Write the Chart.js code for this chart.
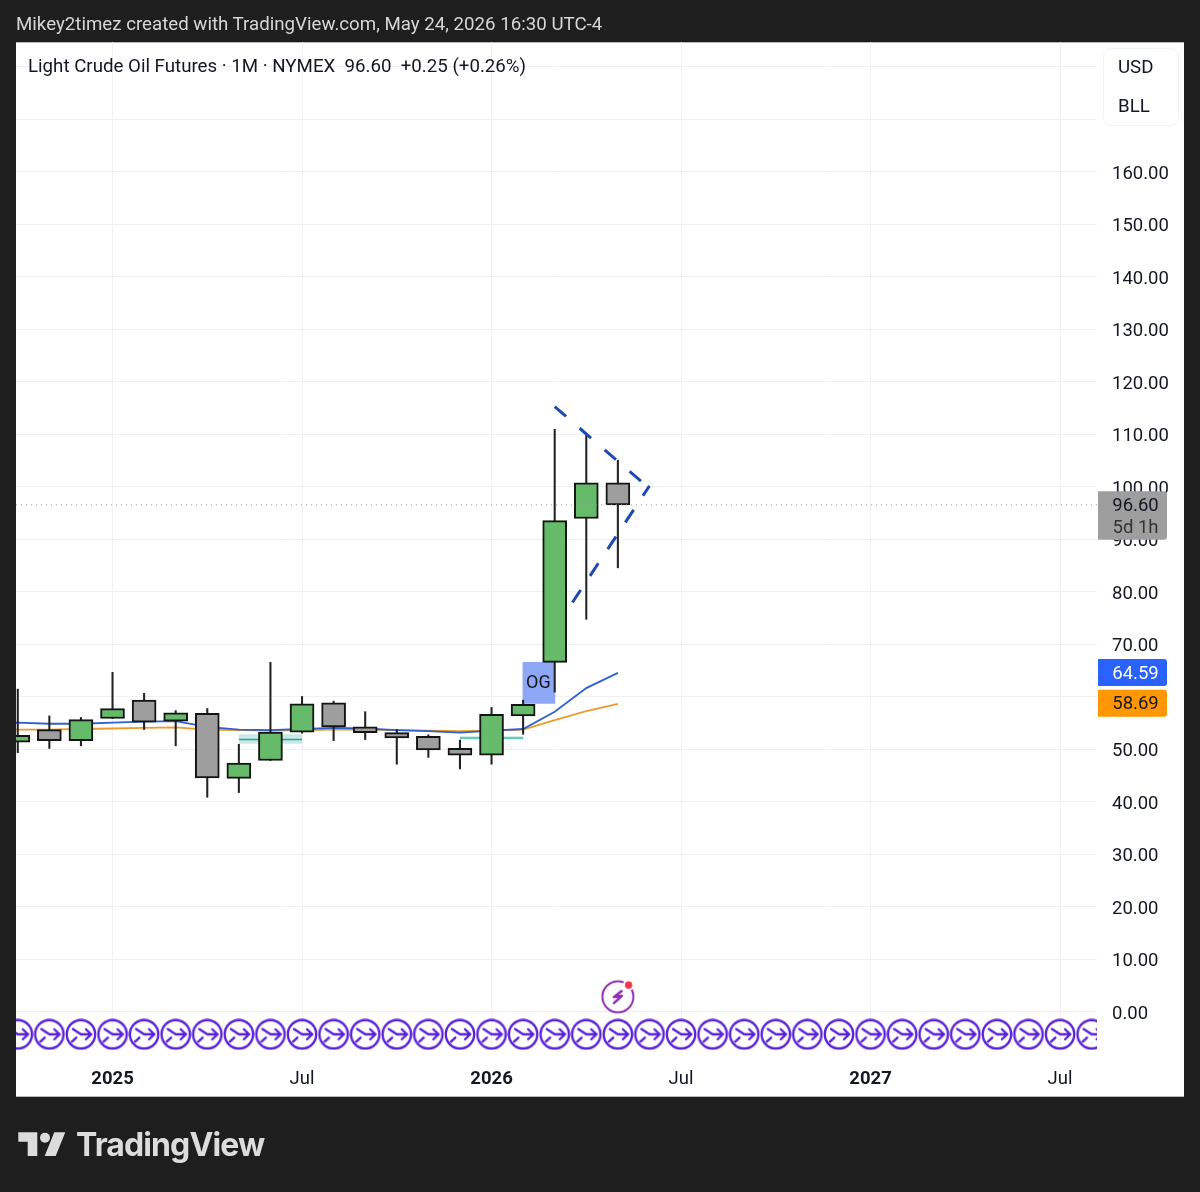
<!DOCTYPE html>
<html>
<head>
<meta charset="utf-8">
<title>Light Crude Oil Futures</title>
<script src="https://cdn.jsdelivr.net/npm/chart.js@4"></script>
<style>
html,body{margin:0;padding:0;background:#1e1e1e;width:1200px;height:1192px;overflow:hidden}
#wrap{position:relative;width:1200px;height:1192px}
canvas#c{position:absolute;left:0;top:0}
.t{position:absolute;white-space:pre;font-family:Roboto,sans-serif;font-size:18.7px;line-height:24px}
#hdr{left:16px;top:12px;color:#d6d6d6}
#leg{left:28px;top:54px;color:#131722}
#box{position:absolute;left:1103px;top:48px;width:74px;height:76px;border:1px solid #f0f3fa;border-radius:8px}
#usd{left:1118px;top:55px;color:#131722}
#bll{left:1118px;top:94px;color:#131722}
#wm{left:76px;top:1125px;color:#dcdcdc;font-family:Inter,sans-serif;font-weight:700;font-size:32px;line-height:40px;letter-spacing:-0.9px}
#logo{position:absolute;left:0;top:1120px}
</style>
</head>
<body>
<div id="wrap">
<canvas id="c" width="1200" height="1192"></canvas>
<div class="t" id="hdr">Mikey2timez created with TradingView.com, May 24, 2026 16:30 UTC-4</div>
<div class="t" id="leg">Light Crude Oil Futures · 1M · NYMEX  96.60  +0.25 (+0.26%)</div>
<div id="box"></div>
<div class="t" id="usd">USD</div>
<div class="t" id="bll">BLL</div>
<svg id="logo" width="76" height="48"><path fill="#dcdcdc" d="M18.3 12.3H37.3V36H27.7V21.7H18.3Z M54.3 12.3H65.3L55.7 36H44.7Z"/><circle fill="#dcdcdc" cx="45" cy="17.7" r="5"/></svg>
<div class="t" id="wm">TradingView</div>
</div>
<script>
// months counted from Jan 2025 = 0
const candleMonths = [-3,-2,-1,0,1,2,3,4,5,6,7,8,9,10,11,12,13,14,15,16];
const candleOpen  = [51.4,53.8,51.7,55.9,59.4,55.4,56.9,44.5,47.9,53.3,58.9,54.3,53.2,52.5,50.2,48.9,56.4,66.6,94.0,100.8];
const candleHigh  = [61.5,56.4,56.1,64.7,60.7,57.4,57.8,51.0,66.6,60.1,59.2,57.2,53.8,52.8,51.8,58.0,59.4,111.0,109.9,105.1];
const candleLow   = [49.4,50.2,50.7,55.9,53.8,50.7,40.9,41.8,47.9,53.1,51.7,51.9,47.2,48.5,46.3,47.2,52.9,60.9,74.8,84.6];
const candleClose = [52.7,51.7,55.7,57.8,55.2,57.0,44.6,47.4,53.3,58.7,54.3,53.2,52.2,49.9,48.9,56.7,58.6,93.6,100.8,96.6];

const maMonths = [-4,-3,-2,-1,0,1,2,3,4,5,6,7,8,9,10,11,12,13,14,15,16];
const blueMa   = [55.0,55.1,54.9,54.9,55.1,55.3,55.4,54.3,53.8,53.7,53.9,54.1,54.0,53.7,53.5,53.2,53.6,53.9,57.2,61.7,64.59];
const orangeMa = [53.8,53.8,53.8,53.9,54.0,54.1,54.2,53.8,53.7,53.6,53.7,53.8,53.8,53.7,53.6,53.5,53.6,53.8,55.6,57.3,58.69];

const yTickValues = [0,10,20,30,40,50,60,70,80,90,100,110,120,130,140,150,160,170,180];
const yLabelMax = 160;
const xTickValues = [0,6,12,18,24,30];
const xTickLabels = ['2025','Jul','2026','Jul','2027','Jul'];

const rangeAMonths = [4,6];   const rangeAMid = 51.9; const rangeATop = 52.9; const rangeABottom = 51.1;
const rangeBMonths = [11,13]; const rangeBMid = 52.2; const rangeBTop = 52.5; const rangeBBottom = 51.9;

const ogMonth = 13.5; const ogBottom = 58.8; const ogTop = 66.6; const ogLabel = 'OG';

const upperTrendMonths = [14,17];    const upperTrendValues = [115.3,99.7];
const lowerTrendMonths = [14.56,17]; const lowerTrendValues = [78.0,100.2];

const lastPrice = 96.60; const lastCountdown = '5d 1h';
const iconMonths = [-3,-2,-1,0,1,2,3,4,5,6,7,8,9,10,11,12,13,14,15,16,17,18,19,20,21,22,23,24,25,26,27,28,29,30,31];
const iconValue = -4.25;
const boltMonth = 16; const boltValue = 2.9;

const xMin = -3.056, xMax = 31.17, yMin = -8, yMax = 184.76;

const UP = '#66bb6a', DOWN = '#9e9e9e', EDGE = '#141414', GRID = '#f0f1f4';

function makeIcon(){
  const s = 32, k = document.createElement('canvas'); k.width = k.height = s;
  const g = k.getContext('2d'); g.translate(s/2,s/2);
  g.strokeStyle = '#5a22d8'; g.lineWidth = 2.4; g.lineCap = 'round'; g.lineJoin = 'round';
  g.beginPath(); g.arc(0,0,14.2,0,Math.PI*2); g.stroke();
  g.beginPath(); g.moveTo(-8,-5.3); g.lineTo(0,0); g.lineTo(10.3,0);
  g.moveTo(5,-5); g.lineTo(10.3,0); g.lineTo(5,5);
  g.moveTo(-9,7.3); g.lineTo(-4.7,3.3); g.stroke();
  return k;
}
function makeBolt(){
  const s = 44, k = document.createElement('canvas'); k.width = k.height = s;
  const g = k.getContext('2d'); g.translate(s/2,s/2);
  g.strokeStyle = '#8e2bb8'; g.lineWidth = 2; g.lineCap = 'round'; g.lineJoin = 'round';
  g.beginPath(); g.arc(0,0,15.5,0,Math.PI*2); g.stroke();
  g.fillStyle = '#fff'; g.beginPath(); g.arc(10.7,-11.7,5.6,0,Math.PI*2); g.fill();
  g.fillStyle = '#f23645'; g.beginPath(); g.arc(10.7,-11.7,3.7,0,Math.PI*2); g.fill();
  g.lineWidth = 2.4; g.beginPath(); g.moveTo(3.7,-5.7); g.lineTo(-4,0.3); g.lineTo(4,-1); g.lineTo(-4,6.3); g.stroke();
  return k;
}

const panelPlugin = {
  id:'panel',
  beforeDraw(ch){
    const c = ch.ctx; c.save();
    c.fillStyle = '#1e1e1e'; c.fillRect(0,0,1200,1192);
    c.fillStyle = '#ffffff'; c.fillRect(16,42,1168,1055);
    c.fillStyle = '#b8b8b8'; c.fillRect(16,42,1168,1); c.fillRect(16,1096,1168,1);
    c.restore();
  },
  afterDatasetsDraw(ch){
    const c = ch.ctx, x = ch.scales.x, y = ch.scales.y;
    c.save();
    c.fillStyle = '#131722'; c.font = '18px Roboto'; c.textAlign = 'center'; c.textBaseline = 'middle';
    c.fillText(ogLabel, x.getPixelForValue(ogMonth)-0.5, y.getPixelForValue((ogTop+ogBottom)/2)+1);
    c.restore();
  },
  afterDraw(ch){
    const c = ch.ctx, y = ch.scales.y;
    const tag = (top,h,fill,ink,lines)=>{
      c.fillStyle = fill; c.beginPath(); c.roundRect(1098,top,69,h,[0,3,3,0]); c.fill();
      c.textAlign = 'center'; c.textBaseline = 'middle'; c.font = '18.5px Roboto';
      lines.forEach(l=>{ c.fillStyle = l.ink||ink; c.fillText(l.t,1135.5,l.y); });
    };
    c.save();
    const yLast = y.getPixelForValue(lastPrice);
    tag(yLast-13.5,48.5,'#9e9e9e','#131722',[{t:lastPrice.toFixed(2),y:yLast+2},{t:lastCountdown,y:yLast+24,ink:'#333333'}]);
    const yB = y.getPixelForValue(blueMa[blueMa.length-1]);
    tag(yB-14,27,'#2962ff','#ffffff',[{t:blueMa[blueMa.length-1].toFixed(2),y:yB+1}]);
    const yO = y.getPixelForValue(orangeMa[orangeMa.length-1]);
    tag(yO-14,27,'#ff9800','#131722',[{t:orangeMa[orangeMa.length-1].toFixed(2),y:yO+1}]);
    c.restore();
  }
};

const bodyColors = candleMonths.map((_,i)=> candleClose[i] >= candleOpen[i] ? UP : DOWN);
const line = (xs,ys)=> xs.map((x,i)=>({x,y:ys[i]}));
const flat = (xs,v)=> xs.map(x=>({x,y:v}));

new Chart(document.getElementById('c'),{
  data:{datasets:[
    {type:'line',data:flat(rangeAMonths,rangeATop),borderWidth:0,pointRadius:0,fill:'+1',backgroundColor:'rgba(38,166,154,0.25)',order:90},
    {type:'line',data:flat(rangeAMonths,rangeABottom),borderWidth:0,pointRadius:0,fill:false,order:89},
    {type:'line',data:flat(rangeAMonths,rangeAMid),borderColor:'#26a69a',borderWidth:1.5,pointRadius:0,order:88},
    {type:'line',data:flat(rangeBMonths,rangeBTop),borderWidth:0,pointRadius:0,fill:'+1',backgroundColor:'rgba(38,166,154,0.25)',order:87},
    {type:'line',data:flat(rangeBMonths,rangeBBottom),borderWidth:0,pointRadius:0,fill:false,order:86},
    {type:'line',data:flat(rangeBMonths,rangeBMid),borderColor:'#3fc3a5',borderWidth:1.5,pointRadius:0,order:85},
    {type:'line',data:line(maMonths,orangeMa),borderColor:'#ee9a28',borderWidth:1.8,pointRadius:0,order:80},
    {type:'line',data:line(maMonths,blueMa),borderColor:'#2f5fd0',borderWidth:1.8,pointRadius:0,order:79},
    {type:'bar',data:[{x:ogMonth,y:[ogBottom,ogTop]}],backgroundColor:'#8ea8f6',barThickness:32,grouped:false,order:70},
    {type:'bar',data:candleMonths.map((m,i)=>({x:m,y:[candleLow[i],candleHigh[i]]})),backgroundColor:'#222222',barThickness:1.4,grouped:false,order:60},
    {type:'bar',data:candleMonths.map((m,i)=>({x:m,y:[Math.min(candleOpen[i],candleClose[i]),Math.max(candleOpen[i],candleClose[i])]})),backgroundColor:bodyColors,borderColor:EDGE,borderWidth:2,borderSkipped:false,barThickness:24,grouped:false,order:50},
    {type:'line',data:line(upperTrendMonths,upperTrendValues),borderColor:'#1e49b5',borderWidth:3,borderDash:[15,18],pointRadius:0,order:40},
    {type:'line',data:line(lowerTrendMonths,lowerTrendValues),borderColor:'#1e49b5',borderWidth:3,borderDash:[15,17],pointRadius:0,order:39},
    {type:'line',data:flat([xMin,xMax],lastPrice),borderColor:'#9a9a9a',borderWidth:1,borderDash:[1,4],pointRadius:0,order:30},
    {type:'line',data:flat(iconMonths,iconValue),showLine:false,pointStyle:makeIcon(),pointRadius:16,pointHoverRadius:16,clip:0,order:20},
    {type:'line',data:[{x:boltMonth,y:boltValue}],showLine:false,pointStyle:makeBolt(),pointRadius:22,clip:0,order:19}
  ]},
  options:{
    responsive:false,animation:false,events:[],
    layout:{autoPadding:false,padding:{left:16,top:42,right:16,bottom:95}},
    plugins:{legend:{display:false},tooltip:{enabled:false},title:{display:false}},
    scales:{
      x:{type:'linear',min:xMin,max:xMax,offset:false,
        grid:{color:GRID,lineWidth:1,drawTicks:false,offset:false},border:{display:false},
        afterBuildTicks(s){s.ticks=xTickValues.map(v=>({value:v}));},
        afterFit(s){s.height=43;s.paddingLeft=0;s.paddingRight=0;},
        ticks:{autoSkip:false,maxRotation:0,padding:14,color:'#131722',
          font:ctx=>({family:'Roboto',size:18.5,weight:(ctx.tick&&ctx.tick.value%12===0)?'700':'400'}),
          callback:v=>{const i=xTickValues.indexOf(v);return i<0?'':xTickLabels[i];}}
      },
      y:{type:'linear',position:'right',min:yMin,max:yMax,
        grid:{color:GRID,lineWidth:1,drawTicks:false},border:{display:false},
        afterBuildTicks(s){s.ticks=yTickValues.map(v=>({value:v}));},
        afterFit(s){s.width=87;s.paddingTop=0;s.paddingBottom=0;},
        ticks:{autoSkip:false,padding:15,labelOffset:2,color:'#131722',align:'center',crossAlign:'near',font:{family:'Roboto',size:18.5},
          callback:v=>v<=yLabelMax?v.toFixed(2):''}
      }
    }
  },
  plugins:[panelPlugin]
});
</script>
</body>
</html>
